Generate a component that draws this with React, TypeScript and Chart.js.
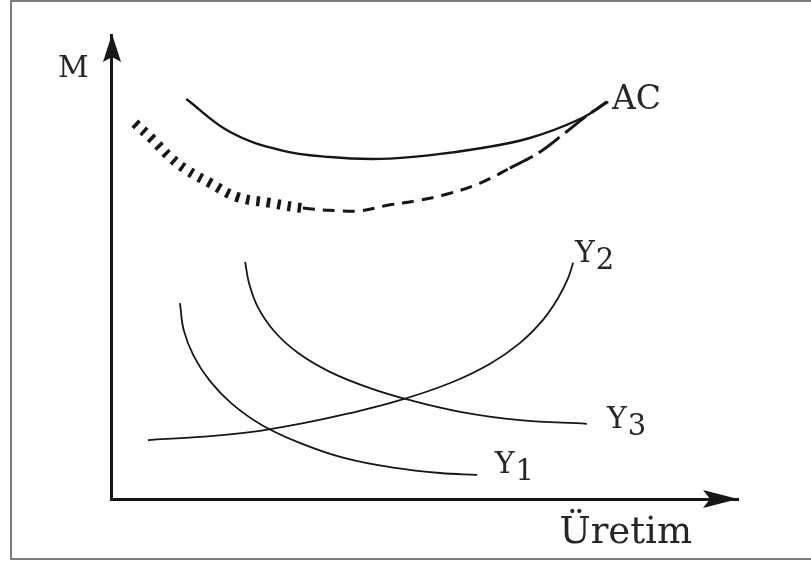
import React, { useEffect, useRef } from "react";
import { Chart, registerables } from "chart.js";

Chart.register(...registerables);

// ---- data (x: output "Üretim", y: cost "M"), arbitrary 0..100 units ----
const acX = [12.0, 19.0, 27.0, 34.9, 42.9, 50.9, 58.9, 66.8, 74.8, 79.3];
const acY = [86.2, 79.1, 75.2, 73.7, 73.3, 74.1, 75.6, 77.8, 81.9, 85.6];

const lacX = [3.8, 6.7, 9.4, 12.1, 15.8, 20.1, 25.4, 30.6, 36.5, 39.7, 44.5, 49.3, 54.1, 58.9, 63.6, 68.4, 72.4, 75.6, 79.1];
const lacY = [81.0, 77.4, 73.7, 70.9, 68.1, 65.1, 63.8, 62.7, 62.1, 62.1, 63.4, 64.4, 65.9, 68.1, 71.3, 74.8, 78.9, 82.3, 85.6];

const y1X = [11.0, 11.6, 13.2, 15.8, 19.3, 24.1, 30.1, 37.3, 45.3, 52.5, 58.4];
const y1Y = [42.2, 36.4, 30.8, 25.4, 20.5, 15.9, 12.1, 8.8, 6.7, 5.6, 5.2];

const y2X = [5.9, 14.2, 22.2, 30.1, 38.1, 46.1, 54.1, 60.4, 65.2, 68.9, 71.3, 72.9, 73.7];
const y2Y = [12.7, 13.4, 14.4, 16.2, 18.5, 21.3, 25.0, 29.1, 33.6, 38.6, 43.3, 47.6, 50.9];

const y3X = [21.4, 22.0, 23.4, 26.0, 29.8, 34.9, 41.3, 47.7, 55.7, 65.2, 75.9];
const y3Y = [51.1, 46.6, 41.4, 36.2, 31.5, 27.4, 23.9, 21.3, 18.8, 17.0, 16.2];

const labelTexts = ["AC", "Y", "Y", "Y"];
const labelSubs = ["", "2", "3", "1"];
const labelXs = [79.9, 74.0, 79.1, 61.2];
const labelYs = [84.1, 51.1, 15.3, 5.6];

const yAxisTitle = "M";
const xAxisTitle = "Üretim";

const INK = "#161616";
const TEXT_INK = "#262626";
const FONT = '"DejaVu Serif", "Liberation Serif", serif';

const zip = (xs: number[], ys: number[]) => xs.map((x, i) => ({ x, y: ys[i] }));

const decorPlugin = {
  id: "decor",
  afterDatasetsDraw(chart: any) {
    const { ctx, chartArea } = chart;
    const xs = chart.scales.x;
    const ys = chart.scales.y;
    ctx.save();
    ctx.fillStyle = INK;
    // y-axis arrowhead
    const ax = chartArea.left;
    const at = chartArea.top;
    ctx.beginPath();
    ctx.moveTo(ax + 1, at - 1);
    ctx.lineTo(ax + 10, at + 27);
    ctx.lineTo(ax + 1, at + 22);
    ctx.lineTo(ax - 8, at + 27);
    ctx.closePath();
    ctx.fill();
    // x-axis arrowhead
    const bx = chartArea.right;
    const by = chartArea.bottom;
    ctx.beginPath();
    ctx.moveTo(bx, by);
    ctx.lineTo(bx - 35, by - 9);
    ctx.lineTo(bx - 28, by);
    ctx.lineTo(bx - 35, by + 9);
    ctx.closePath();
    ctx.fill();

    // curve labels
    ctx.fillStyle = TEXT_INK;
    ctx.textBaseline = "alphabetic";
    ctx.textAlign = "left";
    labelTexts.forEach((t, i) => {
      const px = xs.getPixelForValue(labelXs[i]);
      const py = ys.getPixelForValue(labelYs[i]);
      const size = t === "AC" ? 33 : 30;
      ctx.font = `${size}px ${FONT}`;
      ctx.fillText(t, px, py);
      if (labelSubs[i]) {
        const w = ctx.measureText(t).width;
        ctx.font = `29px ${FONT}`;
        ctx.fillText(labelSubs[i], px + w + 1, py + 7);
      }
    });

    // axis titles
    ctx.font = `30px ${FONT}`;
    ctx.fillText(yAxisTitle, chartArea.left - 53, chartArea.top + 42);
    ctx.font = `37px ${FONT}`;
    ctx.textAlign = "right";
    ctx.fillText(xAxisTitle, chartArea.right - 46, chartArea.bottom + 44);
    ctx.restore();
  },
};

const dashSeg = (c: any) => {
  const x = c.p0.parsed.x;
  if (x < 27) return [3.5, 7];
  if (x < 60) return [12, 8];
  return [26, 7];
};
const widthSeg = (c: any) => (c.p0.parsed.x < 27 ? 10 : 3);

export default function App() {
  const ref = useRef<HTMLCanvasElement>(null);

  useEffect(() => {
    const base = {
      borderColor: INK,
      pointRadius: 0,
      fill: false,
      tension: 0.4,
      borderCapStyle: "butt" as const,
    };
    const chart = new Chart(ref.current as HTMLCanvasElement, {
      type: "line",
      data: {
        datasets: [
          { ...base, label: "AC", data: zip(acX, acY), borderWidth: 2.4 },
          {
            ...base,
            label: "LAC",
            data: zip(lacX, lacY),
            borderWidth: 3,
            segment: { borderDash: dashSeg, borderWidth: widthSeg },
          },
          { ...base, label: "Y1", data: zip(y1X, y1Y), borderWidth: 1.8 },
          { ...base, label: "Y2", data: zip(y2X, y2Y), borderWidth: 1.8 },
          { ...base, label: "Y3", data: zip(y3X, y3Y), borderWidth: 1.8 },
        ],
      },
      options: {
        responsive: false,
        animation: false,
        devicePixelRatio: 1,
        events: [],
        layout: { padding: { left: 111, top: 35, right: 73, bottom: 63 } },
        plugins: { legend: { display: false }, tooltip: { enabled: false } },
        scales: {
          x: {
            type: "linear",
            min: 0,
            max: 100,
            ticks: { display: false },
            grid: { display: false, drawTicks: false },
            border: { display: true, color: INK, width: 3 },
          },
          y: {
            type: "linear",
            min: 0,
            max: 100,
            ticks: { display: false },
            grid: { display: false, drawTicks: false },
            border: { display: true, color: INK, width: 3 },
          },
        },
      },
      plugins: [decorPlugin],
    });
    return () => chart.destroy();
  }, []);

  return (
    <div style={{ position: "fixed", left: 0, top: 0, width: 811, height: 562, background: "#fff", overflow: "hidden" }}>
      <div
        style={{
          position: "absolute",
          left: 10,
          top: 0,
          width: 810,
          height: 560,
          boxSizing: "border-box",
          border: "2px solid #7a7a7a",
          borderRight: "none",
        }}
      />
      <canvas ref={ref} width={811} height={562} style={{ position: "absolute", left: 0, top: 0, width: 811, height: 562 }} />
    </div>
  );
}
